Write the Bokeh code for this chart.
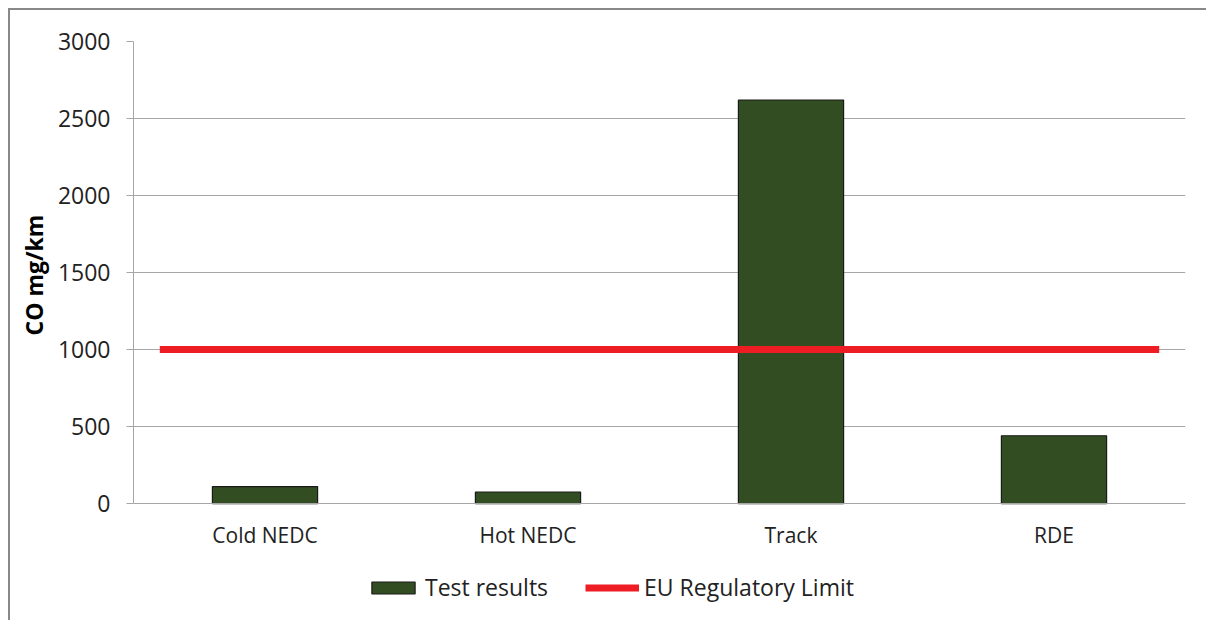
from bokeh.plotting import figure
from bokeh.models import Range1d, FixedTicker, Legend, LegendItem, ColumnDataSource, Title
from bokeh.embed import file_html
from bokeh.resources import INLINE

categories = ["Cold NEDC", "Hot NEDC", "Track", "RDE"]
test_results = [110, 75, 2620, 440]
eu_limit = 1000
y_ticks = [0, 500, 1000, 1500, 2000, 2500, 3000]
y_label = "CO mg/km"

FONT = "Open Sans"
GRID = "#a6a6a6"

xs = [i + 0.5 for i in range(len(categories))]
src = ColumnDataSource(dict(x=xs, top=test_results, cat=categories))

# frame extends below zero to leave room for the legend inside the frame
p = figure(width=1198, height=612, output_backend="svg", toolbar_location=None,
           x_range=Range1d(0, len(categories)), y_range=Range1d(-727, 3000),
           min_border_left=121, min_border_right=23, min_border_top=31, min_border_bottom=7)
p.styles = {"margin-left": "8px", "margin-top": "8px",
            "border-left": "2px solid #888888", "border-top": "2px solid #888888"}
p.outline_line_color = None
p.background_fill_color = "white"
p.border_fill_color = "white"

bars = p.vbar(x="x", top="top", width=0.4, bottom=0, source=src,
              fill_color="#334d22", line_color="#1a1a1a", line_width=1.2)
limit_line = p.line(x=[0.1, len(categories) - 0.1], y=[eu_limit, eu_limit],
                    line_color="#ee1d23", line_width=7)

# x axis, pinned at y = 0
p.xaxis.fixed_location = 0
p.xaxis.ticker = FixedTicker(ticks=xs)
p.xaxis.major_label_overrides = {x: c for x, c in zip(xs, categories)}
p.xaxis.major_tick_line_color = None
p.xaxis.minor_tick_line_color = None
p.xaxis.axis_line_color = GRID
p.xaxis.major_label_text_font = FONT
p.xaxis.major_label_text_font_size = "21px"
p.xaxis.major_label_text_color = "#222222"
p.xaxis.major_label_standoff = 11

# y axis
p.yaxis.bounds = (0, 3000)
p.yaxis.ticker = FixedTicker(ticks=y_ticks)
p.yaxis.axis_line_color = GRID
p.yaxis.major_tick_line_color = GRID
p.yaxis.major_tick_in = 0
p.yaxis.major_tick_out = 7
p.yaxis.minor_tick_line_color = None
p.yaxis.major_label_text_font = FONT
p.yaxis.major_label_text_font_size = "23px"
p.yaxis.major_label_text_color = "#222222"
p.yaxis.major_label_standoff = 16

p.add_layout(Title(text=y_label, align="left", offset=280, standoff=10,
                   text_font=FONT, text_font_size="23px", text_font_style="bold",
                   text_color="#000000"), "left")

p.xgrid.grid_line_color = None
p.ygrid.ticker = FixedTicker(ticks=y_ticks)
p.ygrid.grid_line_color = GRID
p.ygrid.grid_line_width = 1

legend = Legend(items=[LegendItem(label="Test results", renderers=[bars]),
                       LegendItem(label="EU Regulatory Limit", renderers=[limit_line])],
                orientation="horizontal", location=(233, 12),
                glyph_width=54, glyph_height=15, label_standoff=5, spacing=37,
                padding=0, margin=0, border_line_color=None, background_fill_alpha=0,
                label_text_font=FONT, label_text_font_size="23px", label_text_color="#222222")
p.add_layout(legend, "center")

open("out.html", "w").write(file_html(p, INLINE))
